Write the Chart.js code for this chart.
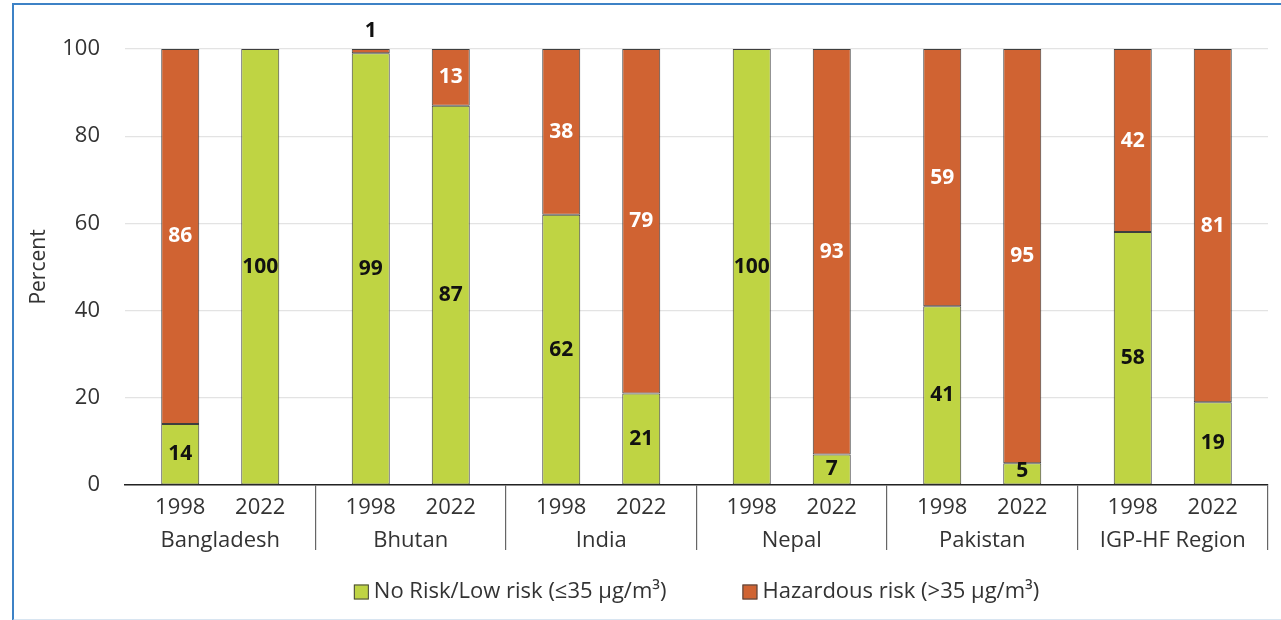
<!DOCTYPE html>
<html>
<head>
<meta charset="utf-8">
<script src="https://cdn.jsdelivr.net/npm/chart.js@4"></script>
<style>
  html, body { margin: 0; padding: 0; background: #fff; overflow: hidden; }
  #wrap { position: relative; width: 1281px; height: 620px; }
  #frame {
    position: absolute; left: 12px; top: 3px; width: 1300px; height: 614px;
    border-left: 2px solid #3d82c6; border-top: 2px solid #3d82c6;
    border-bottom: 2px solid #d8e5f1; pointer-events: none;
  }
</style>
</head>
<body>
<div id="wrap">
  <canvas id="chart" width="1281" height="620"></canvas>
  <div id="frame"></div>
</div>
<script>
// Datos
const countries = ['Bangladesh', 'Bhutan', 'India', 'Nepal', 'Pakistan', 'IGP-HF Region'];
const years = ['1998', '2022'];
const low1998 = [14, 99, 62, 100, 41, 58];
const haz1998 = [86, 1, 38, 0, 59, 42];
const low2022 = [100, 87, 21, 7, 5, 19];
const haz2022 = [0, 13, 79, 93, 95, 81];
const yTicks = [0, 20, 40, 60, 80, 100];
const legendLabels = ['No Risk/Low risk (\u226435 \u00b5g/m\u00b3)', 'Hazardous risk (>35 \u00b5g/m\u00b3)'];

const GREEN = '#bfd443';
const ORANGE = '#d06332';
const FONT = "'Open Sans', sans-serif";
const TXT = '#333';
const SIZE = 22;

// Etiquetas de años, valores y leyenda
const extras = {
    id: 'extras',
    afterDatasetsDraw(chart) {
        const c = chart.ctx;
        const xs = chart.scales.x;
        c.save();
        // valores dentro de las barras
        chart.data.datasets.forEach((ds, di) => {
            const meta = chart.getDatasetMeta(di);
            const isLow = di % 2 === 0;
            meta.data.forEach((bar, i) => {
                const v = ds.data[i];
                if (!v) return;
                const h = bar.base - bar.y;
                let y = (bar.y + bar.base) / 2;
                let col = isLow ? '#111' : '#fff';
                if (h < 26) {
                    if (isLow) y = bar.base - 13;
                    else { y = bar.y - 18; col = '#111'; }
                }
                c.font = "bold 21px " + FONT;
                c.fillStyle = col;
                c.textAlign = 'center';
                c.textBaseline = 'middle';
                c.fillText(String(v), bar.x, y);
            });
        });
        // años bajo cada barra
        c.font = SIZE + "px " + FONT;
        c.fillStyle = TXT;
        c.textAlign = 'center';
        c.textBaseline = 'middle';
        [0, 2].forEach((di, k) => {
            chart.getDatasetMeta(di).data.forEach(bar => {
                c.fillText(years[k], bar.x, xs.top + 23);
            });
        });
        // leyenda
        const ly = 592;
        const box = 15, gap = 5, spacing = 76;
        const widths = legendLabels.map(t => c.measureText(t).width);
        const total = widths.reduce((a, w) => a + box + gap + w, 0) + spacing;
        let lx = (chart.chartArea.left + chart.chartArea.right) / 2 - total / 2;
        c.textAlign = 'left';
        legendLabels.forEach((t, k) => {
            c.fillStyle = k === 0 ? GREEN : ORANGE;
            c.fillRect(lx, ly - box / 2, box, box);
            c.strokeStyle = '#444';
            c.lineWidth = 1;
            c.strokeRect(lx + 0.5, ly - box / 2 + 0.5, box - 1, box - 1);
            c.fillStyle = TXT;
            c.fillText(t, lx + box + gap, ly);
            lx += box + gap + widths[k] + spacing;
        });
        c.restore();
    }
};

const ctx = document.getElementById('chart').getContext('2d');
const chart = new Chart(ctx, {
    type: 'bar',
    data: {
        labels: countries,
        datasets: [
            { label: legendLabels[0] + ' 1998', data: low1998, stack: 's1998', backgroundColor: GREEN },
            { label: legendLabels[1] + ' 1998', data: haz1998, stack: 's1998', backgroundColor: ORANGE },
            { label: legendLabels[0] + ' 2022', data: low2022, stack: 's2022', backgroundColor: GREEN },
            { label: legendLabels[1] + ' 2022', data: haz2022, stack: 's2022', backgroundColor: ORANGE }
        ]
    },
    options: {
        responsive: false,
        animation: false,
        events: [],
        categoryPercentage: 0.84,
        barPercentage: 0.475,
        datasets: {
            bar: { borderColor: '#3e3e3e', borderWidth: 1, borderSkipped: false }
        },
        layout: { padding: { left: 20, top: 49, right: 13, bottom: 0 } },
        plugins: {
            legend: { display: false },
            tooltip: { enabled: false }
        },
        scales: {
            x: {
                stacked: true,
                afterFit: s => { s.height = 135; },
                grid: {
                    offset: true,
                    drawOnChartArea: false,
                    drawTicks: true,
                    tickLength: 65,
                    color: c => (c.index === 0 || c.index === countries.length) ? 'rgba(0,0,0,0)' : '#666',
                    lineWidth: 1.2
                },
                border: { display: true, color: '#222', width: 1.5 },
                ticks: { padding: -22, color: TXT, font: { family: FONT, size: SIZE }, maxRotation: 0 }
            },
            y: {
                stacked: true,
                min: 0,
                max: 100,
                afterFit: s => { s.width = 105; },
                afterBuildTicks: s => { s.ticks = yTicks.map(v => ({ value: v })); },
                grid: { color: '#e3e3e3', lineWidth: 1.2, drawTicks: false },
                border: { display: false },
                ticks: { padding: 25, color: TXT, font: { family: FONT, size: SIZE } },
                title: {
                    display: true,
                    text: 'Percent',
                    color: TXT,
                    font: { family: FONT, size: 21 },
                    padding: { top: 6, bottom: 0 }
                }
            }
        }
    },
    plugins: [extras]
});
</script>
</body>
</html>
